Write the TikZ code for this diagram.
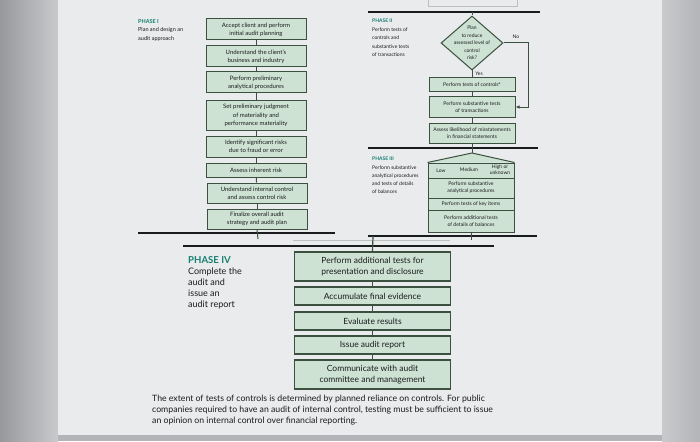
\documentclass[tikz,border=0pt]{standalone}
\usepackage{fontspec}
\setmainfont{Lato}
\usepackage{xcolor}
\definecolor{boxfill}{RGB}{206,226,212}
\definecolor{boxedge}{RGB}{60,80,64}
\definecolor{phaseteal}{RGB}{22,128,112}
\definecolor{inkgray}{RGB}{25,28,28}
\definecolor{pagelight}{RGB}{233,235,236}
\definecolor{sidegray}{RGB}{178,180,183}
\definecolor{sidedark}{RGB}{150,152,155}
\definecolor{faintline}{RGB}{188,192,190}
\usetikzlibrary{arrows.meta, positioning, shapes.geometric}

\tikzset{
  stepbox/.style={draw=boxedge, fill=boxfill, line width=1pt, align=center, inner sep=0pt, text=inkgray},
  smallbox/.style={stepbox, minimum width=100pt, font=\fontsize{6}{8.3}\selectfont},
  tinybox/.style={stepbox, minimum width=86pt, font=\fontsize{5.1}{7}\selectfont},
  bigbox/.style={stepbox, minimum width=156pt, line width=1.3pt, font=\fontsize{8.5}{10.5}\selectfont},
  decision/.style={diamond, draw=boxedge, fill=boxfill, line width=1pt, minimum width=62pt, minimum height=54pt, inner sep=0pt},
  link/.style={draw=boxedge, line width=1pt},
  phaseline/.style={draw=inkgray, line width=1.4pt},
  phasenote/.style={anchor=north west, align=left, inner sep=0pt, text=inkgray},
  tinytext/.style={font=\fontsize{5}{6}\selectfont, text=inkgray, inner sep=0pt, align=center},
}

\begin{document}
\begin{tikzpicture}[x=1pt, y=-1pt]
      \useasboundingbox (0,0) rectangle (700,441);

      % Background (photo of the page)
      \fill[sidegray] (0,0) rectangle (700,441);
      \shade[left color=sidedark, right color=sidegray!60!pagelight] (0,0) rectangle (58,441);
      \fill[pagelight] (58,0) rectangle (662,435);
      \shade[left color=sidegray!60!pagelight, right color=sidegray] (662,0) rectangle (700,441);

      % Phase I
      \node[phasenote, font=\fontsize{5.5}{8.5}\selectfont] (phaseone) at (138,19)
        {\textcolor{phaseteal}{\bfseries PHASE I}\\Plan and design an\\audit approach};

      \node[smallbox, minimum height=21pt] (accept)  at (256,29.5) {Accept client and perform\\initial audit planning};
      \node[smallbox, minimum height=21pt] (business) at (256,56.5) {Understand the client's\\business and industry};
      \node[smallbox, minimum height=21pt] (prelim)  at (256,82.5) {Perform preliminary\\analytical procedures};
      \node[smallbox, minimum height=29pt] (material) at (256,115.5) {Set preliminary judgment\\of materiality and\\performance materiality};
      \node[smallbox, minimum height=21pt] (fraud)   at (256,146.5) {Identify significant risks\\due to fraud or error};
      \node[smallbox, minimum height=14pt] (inherent) at (256,170) {Assess inherent risk};
      \node[smallbox, minimum height=20pt] (control) at (257,193) {Understand internal control\\and assess control risk};
      \node[smallbox, minimum height=20pt] (strategy) at (257,219) {Finalize overall audit\\strategy and audit plan};

      \draw[link] (accept) -- (business);
      \draw[link] (business) -- (prelim);
      \draw[link] (prelim) -- (material);
      \draw[link] (material) -- (fraud);
      \draw[link] (fraud) -- (inherent);
      \draw[link] (inherent) -- (control);
      \draw[link] (control) -- (strategy);

      \draw[phaseline] (138,233) -- (335,233);
      \coordinate (onetick) at (258,239);
      \draw[link] (strategy.south) -- (onetick);

      % Phase II
      \draw[faintline, line width=0.8pt] (428,-2) -- (428,6) -- (517,6) -- (517,-2);
      \draw[phaseline] (368,12) -- (540,12);
      \coordinate (twojoin) at (472,12);

      \node[phasenote, font=\fontsize{5}{8.4}\selectfont] (phasetwo) at (372,19)
        {\textcolor{phaseteal}{\bfseries PHASE II}\\Perform tests of\\controls and\\substantive tests\\of transactions};

      \node[decision] (plan) at (472,43) {};
      \node[tinytext, font=\fontsize{5}{7.5}\selectfont] (plantext) at (plan) {Plan\\to reduce\\assessed level of\\control\\risk?};
      \node[tinytext] (nolabel) at (516,37) {No};
      \node[tinytext] (yeslabel) at (479,74) {Yes};

      \node[tinybox, minimum height=14pt] (ctrltests) at (472,85) {Perform tests of controls\textsuperscript{a}};
      \node[tinybox, minimum height=20pt] (subtx) at (472,107) {Perform substantive tests\\of transactions};
      \node[tinybox, minimum height=20pt] (likely) at (472,133) {Assess likelihood of misstatements\\in financial statements};

      \draw[link] (twojoin) -- (plan.north);
      \draw[link] (plan.south) -- (ctrltests.north);
      \draw[link] (ctrltests) -- (subtx);
      \draw[link] (subtx) -- (likely);
      \draw[link, -{Latex[length=4pt, width=3.5pt]}] (plan.east) -| ([xshift=13pt]subtx.east) -- (subtx.east);

      % Phase III
      \draw[phaseline] (368,148) -- (538,148);
      \node[phasenote, font=\fontsize{5}{8.2}\selectfont] (phasethree) at (372,157)
        {\textcolor{phaseteal}{\bfseries PHASE III}\\Perform substantive\\analytical procedures\\and tests of details\\of balances};

      \node[tinybox, minimum height=15pt] (levels) at (471,170.5) {};
      \coordinate (peak) at (472,153);
      \draw[link, fill=boxfill, line join=miter] (levels.north west) -- (peak) -- (levels.north east);
      \node[tinytext] (low) at (441,170.5) {Low};
      \node[tinytext] (medium) at (469,170) {Medium};
      \node[tinytext] (high) at (500,169.5) {High or\\unknown};

      \node[tinybox, minimum height=20pt] (subanal) at (471,188) {Perform substantive\\analytical procedures};
      \node[tinybox, minimum height=12pt] (keyitems) at (471,204) {Perform tests of key items};
      \node[tinybox, minimum height=22pt] (details) at (471,221) {Perform additional tests\\of details of balances};

      \draw[link] (likely.south) -- (peak);

      \draw[phaseline] (368,236) -- (537,236);
      \coordinate (threetick) at (471,240);
      \draw[link] (details.south) -- (threetick);

      % Phase IV
      \draw[faintline, line width=1pt] (293,240) -- (450,240);
      \draw[phaseline] (183,246) -- (494,246);
      \coordinate (fourjoin) at (373,236);

      \node[phasenote, font=\fontsize{9}{11}\selectfont] (phasefour) at (188,256)
        {\textcolor{phaseteal}{\bfseries\fontsize{9.6}{11}\selectfont PHASE IV}\\Complete the\\audit and\\issue an\\audit report};

      \node[bigbox, minimum height=29pt] (addtests) at (372.5,266.5) {Perform additional tests for\\presentation and disclosure};
      \node[bigbox, minimum height=18pt] (accum) at (372.5,296) {Accumulate final evidence};
      \node[bigbox, minimum height=18pt] (evalres) at (372.5,321) {Evaluate results};
      \node[bigbox, minimum height=18pt] (issue) at (372.5,345) {Issue audit report};
      \node[bigbox, minimum height=29pt] (commun) at (372.5,374.5) {Communicate with audit\\committee and management};

      \draw[link, line width=1.2pt] (fourjoin) -- (addtests.north);
      \draw[link, line width=1.2pt] (addtests) -- (accum);
      \draw[link, line width=1.2pt] (accum) -- (evalres);
      \draw[link, line width=1.2pt] (evalres) -- (issue);
      \draw[link, line width=1.2pt] (issue) -- (commun);

      % Footnote
      \node[phasenote, font=\fontsize{8.7}{11}\selectfont] (footnote) at (152,395)
        {The extent of tests of controls is determined by planned reliance on controls. For public\\
         companies required to have an audit of internal control, testing must be sufficient to issue\\
         an opinion on internal control over financial reporting.};
    \end{tikzpicture}
\end{document}
